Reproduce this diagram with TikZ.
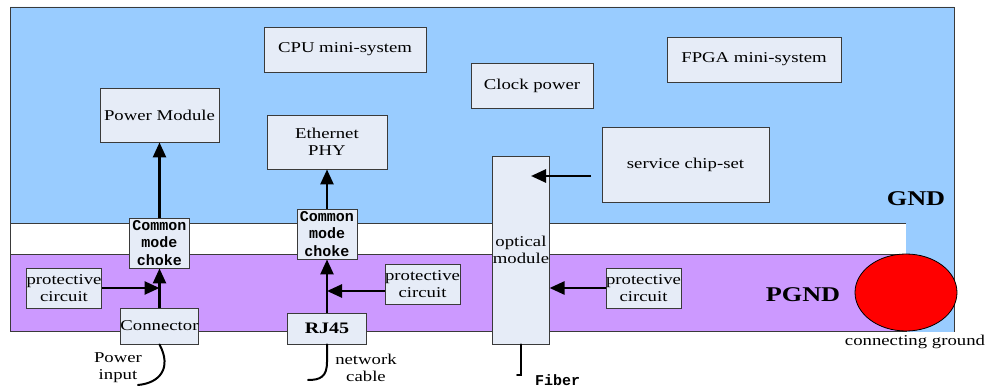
\documentclass[tikz,border=0pt]{standalone}
\usepackage{fontspec}
\setmainfont{Liberation Serif}[FakeStretch=1.25]
\newfontfamily\chokefont{Liberation Mono}
\usetikzlibrary{arrows.meta, positioning, shapes.geometric}
\definecolor{gndblue}{HTML}{99CCFF}
\definecolor{pgndpurple}{HTML}{CC99FF}
\definecolor{boxfill}{HTML}{E6ECF7}
\definecolor{edgegray}{HTML}{3A3A3A}

\begin{document}
\begin{tikzpicture}[x=1pt, y=-1pt,
    blk/.style={rectangle, draw=edgegray, line width=0.9pt, fill=boxfill,
                inner sep=0pt, align=center,
                font=\fontsize{15}{17}\selectfont},
    chk/.style={blk, minimum width=60pt, minimum height=50pt,
                font=\chokefont\bfseries\fontsize{15}{17.5}\selectfont},
    arr/.style={-{Triangle[length=15pt, width=13pt]}, line width=2.6pt},
    wire/.style={line width=2pt, line cap=round},
    lbl/.style={align=center, inner sep=0pt,
                font=\fontsize{15}{17}\selectfont},
]
  \useasboundingbox (0,0) rectangle (986,387);

  % GND area, with the strip down to the ground point
  \fill[gndblue] (10,7) -- (954,7) -- (954,332) -- (906,332)
    -- (906,223) -- (10,223) -- cycle;
  \draw[edgegray, line width=0.9pt] (906,223) -- (10,223) -- (10,7)
    -- (954,7) -- (954,332);
  \draw[edgegray, line width=0.9pt] (10,223) -- (10,254);

  % PGND area
  \draw[edgegray, line width=0.9pt, fill=pgndpurple] (10,254) rectangle (906,331);

  \node[draw=black, line width=0.8pt, fill=red, ellipse, minimum width=102pt,
        minimum height=77pt, inner sep=0pt] (gndpt) at (906,292.5) {};
  \node[lbl] (gndtxt) at (915,342) {connecting ground};
  \node[lbl, font=\bfseries\fontsize{21}{21}\selectfont] (gnd) at (916,199) {GND};
  \node[lbl, font=\bfseries\fontsize{21}{21}\selectfont] (pgnd) at (803,295) {PGND};

  % Top row
  \node[blk, minimum width=162pt, minimum height=45pt] (cpu) at (345,49.5) {CPU mini-system};
  \node[blk, minimum width=122pt, minimum height=45pt] (clock) at (532,85.5) {Clock power};
  \node[blk, minimum width=174pt, minimum height=45pt] (fpga) at (754,59.5) {FPGA mini-system};

  % Left column
  \node[blk, minimum width=119pt, minimum height=54pt] (power) at (159.5,115) {Power Module};
  \node[chk] (choke1) at (159.5,243) {Common\\mode\\choke};
  \node[blk, minimum width=72pt, minimum height=40pt] (prot1) at (64,288) {protective\\circuit};
  \node[blk, minimum width=78pt, minimum height=36pt] (conn) at (159.5,326) {Connector};
  \node[lbl] (pwrin) at (118,368) {Power\\input};

  % Middle column
  \node[blk, minimum width=120pt, minimum height=54pt] (phy) at (327,142) {Ethernet\\PHY};
  \node[chk] (choke2) at (327,234) {Common\\mode\\choke};
  \node[blk, minimum width=71pt, minimum height=40pt] (prot2) at (422.5,284) {protective\\circuit};
  \node[blk, minimum width=79pt, minimum height=31pt, font=\bfseries\fontsize{16}{17}\selectfont]
    (rj) at (327,328.5) {RJ45};
  \node[lbl] (netcab) at (366,368) {network\\cable};

  % Right part
  \node[blk, minimum width=54pt, minimum height=188pt] (optical) at (521,250) {optical\\module};
  \node[blk, minimum width=167pt, minimum height=75pt] (service) at (685.5,164.5) {service chip-set};
  \node[blk, minimum width=71pt, minimum height=40pt] (prot3) at (643.5,288) {protective\\circuit};
  \node[lbl, anchor=west, font=\chokefont\bfseries\fontsize{15}{15}\selectfont]
    (fiber) at (535,380) {Fiber};

  \coordinate (j1) at (159.5,288);
  \coordinate (j2) at (327,291);
  \coordinate (svcout) at (591,176);
  \coordinate (optin) at (531,176);
  \coordinate (pwrend) at (138,385);
  \coordinate (netend) at (308,380);
  \coordinate (fibend) at (521,375);

  % Power path
  \draw[arr] (conn.north) -- (choke1.south);
  \draw[arr] (choke1.north) -- (power.south);
  \draw[arr] (prot1.east) -- (j1);

  % Ethernet path
  \draw[arr] (rj.north) -- (choke2.south);
  \draw[arr] (choke2.north) -- (phy.south);
  \draw[arr] (prot2.west |- j2) -- (j2);

  % optical module inputs
  \draw[arr] (svcout) -- (optin);
  \draw[arr] (prot3.west) -- (prot3.west -| optical.east);

  % cables
  \draw[wire] (conn.south) .. controls (172,368) and (160,383) .. (pwrend);
  \draw[wire] (rj.south) -- (327,362) .. controls (327,377) and (320,380) .. (netend);
  \draw[wire] (optical.south) -- (fibend) -- ++(-4,0);
\end{tikzpicture}
\end{document}
